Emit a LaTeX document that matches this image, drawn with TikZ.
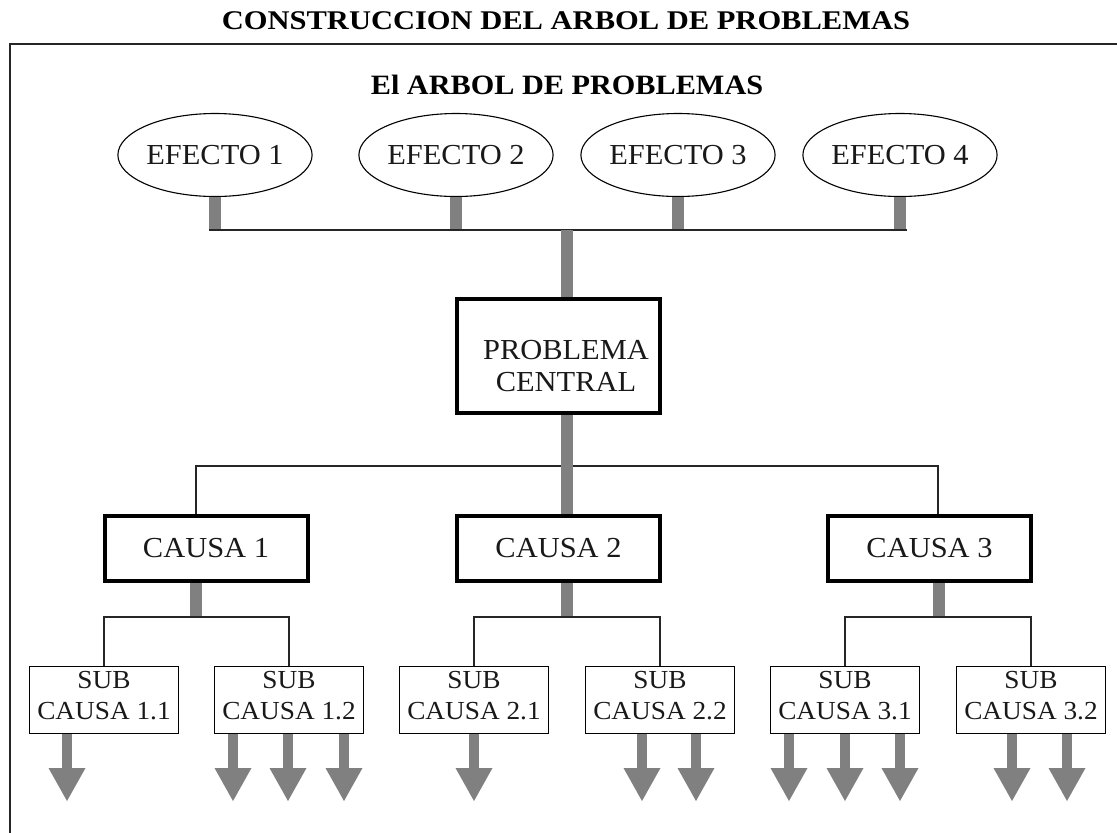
\documentclass[tikz,border=0pt]{standalone}
\usepackage{fontspec}
\usepackage{graphicx}
\setmainfont{Liberation Serif}
\newfontfamily\widefont{Liberation Serif}[FakeStretch=1.05]
\usetikzlibrary{shapes.geometric,arrows.meta}
\definecolor{stemgray}{RGB}{128,128,128}
\begin{document}
\begin{tikzpicture}[x=1pt,y=-1pt,
  efecto/.style={ellipse, draw=black, line width=1.1pt, minimum width=186pt, minimum height=83pt, inner sep=0pt, text=black!90, font=\widefont\fontsize{29}{33}\selectfont},
  bigbox/.style={draw=black, line width=4pt, minimum width=203pt, inner sep=0pt, text=black!90, font=\widefont\fontsize{29}{33}\selectfont},
  subbox/.style={draw=black, line width=1.3pt, minimum width=149pt, minimum height=67pt, inner sep=0pt, align=center, text depth=10pt, text=black!90, font=\widefont\fontsize{26}{31}\selectfont},
  stem/.style={draw=stemgray, line width=12pt},
  thinline/.style={draw=black!85, line width=1.5pt},
  dart/.style={draw=stemgray, line width=10pt, -{Triangle[width=37pt,length=33pt,line width=0pt]}}
]
\useasboundingbox (0,0) rectangle (1117,833);

% frame
\draw[thinline] (10,833) -- (10,44) -- (1117,44);

% titles
\node[anchor=base, inner sep=0pt, font=\fontsize{27}{30}\selectfont\bfseries] (title) at (566,29) {\scalebox{1.13}[1]{CONSTRUCCION DEL ARBOL DE PROBLEMAS}};
\node[anchor=base, inner sep=0pt, font=\fontsize{28}{32}\selectfont\bfseries] (subtitle) at (567,94) {\scalebox{1.08}[1]{El ARBOL DE PROBLEMAS}};

% effects
\node[efecto] (e1) at (215,155) {EFECTO 1};
\node[efecto] (e2) at (456,155) {EFECTO 2};
\node[efecto] (e3) at (678,155) {EFECTO 3};
\node[efecto] (e4) at (900,155) {EFECTO 4};

\coordinate (busL) at (209,230);
\coordinate (busR) at (907,230);
\coordinate (busE) at (567,230);

\foreach \e in {e1,e2,e3,e4}{
  \draw[stem] (\e.south) -- (\e.south |- busL);
}
\draw[thinline] (busL) -- (busR);

% central problem
\node[bigbox, minimum height=114pt] (pc) at (558.5,356) {};
\node[inner sep=0pt, align=center, text=black!90, font=\widefont\fontsize{29}{32}\selectfont] (pctext) at (566,366) {PROBLEMA\\CENTRAL};
\draw[stem] (busE) -- (busE |- pc.north);

% causes
\node[bigbox, minimum height=65pt] (c1) at (206,548.5) {CAUSA 1};
\node[bigbox, minimum height=65pt] (c2) at (558.5,548.5) {CAUSA 2};
\node[bigbox, minimum height=65pt] (c3) at (929.5,548.5) {CAUSA 3};

\coordinate (cbL) at (196,466);
\coordinate (cbR) at (938,466);
\draw[thinline] (c1.north -| cbL) -- (cbL) -- (cbR) -- (c3.north -| cbR);
\draw[stem] (pc.south -| busE) -- (c2.north -| busE);

% sub causes
\node[subbox] (s11) at (104,700) {SUB\\CAUSA 1.1};
\node[subbox] (s12) at (289,700) {SUB\\CAUSA 1.2};
\node[subbox] (s21) at (474,700) {SUB\\CAUSA 2.1};
\node[subbox] (s22) at (660,700) {SUB\\CAUSA 2.2};
\node[subbox] (s31) at (845,700) {SUB\\CAUSA 3.1};
\node[subbox] (s32) at (1031,700) {SUB\\CAUSA 3.2};

\coordinate (j1) at (196,617);
\coordinate (j2) at (567,617);
\coordinate (j3) at (939,617);
\draw[stem] (c1.south -| j1) -- (j1);
\draw[stem] (c2.south -| j2) -- (j2);
\draw[stem] (c3.south -| j3) -- (j3);
\draw[thinline] (s11.north) -- (s11.north |- j1) -- (s12.north |- j1) -- (s12.north);
\draw[thinline] (s21.north) -- (s21.north |- j2) -- (s22.north |- j2) -- (s22.north);
\draw[thinline] (s31.north) -- (s31.north |- j3) -- (s32.north |- j3) -- (s32.north);

% arrows
\coordinate (a111) at (67,801);
\coordinate (a121) at (233,801);
\coordinate (a122) at (288,801);
\coordinate (a123) at (344,801);
\coordinate (a211) at (474,801);
\coordinate (a221) at (642,801);
\coordinate (a222) at (696,801);
\coordinate (a311) at (789,801);
\coordinate (a312) at (845,801);
\coordinate (a313) at (900,801);
\coordinate (a321) at (1012,801);
\coordinate (a322) at (1067,801);
\draw[dart] (s11.south -| a111) -- (a111);
\draw[dart] (s12.south -| a121) -- (a121);
\draw[dart] (s12.south -| a122) -- (a122);
\draw[dart] (s12.south -| a123) -- (a123);
\draw[dart] (s21.south -| a211) -- (a211);
\draw[dart] (s22.south -| a221) -- (a221);
\draw[dart] (s22.south -| a222) -- (a222);
\draw[dart] (s31.south -| a311) -- (a311);
\draw[dart] (s31.south -| a312) -- (a312);
\draw[dart] (s31.south -| a313) -- (a313);
\draw[dart] (s32.south -| a321) -- (a321);
\draw[dart] (s32.south -| a322) -- (a322);
\end{tikzpicture}
\end{document}
